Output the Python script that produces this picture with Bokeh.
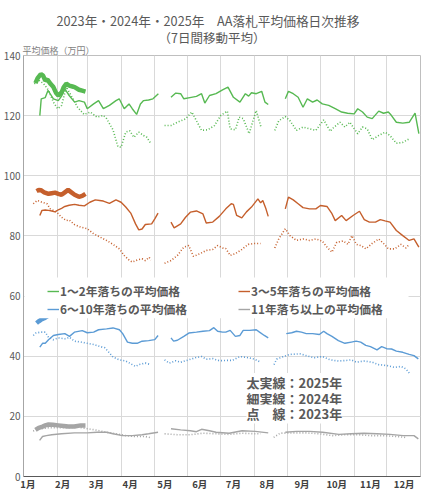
from bokeh.plotting import figure
from bokeh.models import (Range1d, FixedTicker, Legend, LegendItem, BoxAnnotation, Label, Title)
from bokeh.embed import file_html
from bokeh.resources import INLINE

NaN = float("nan")
FONT = "Noto Sans CJK JP"

title_main = "2023年・2024年・2025年　AA落札平均価格日次推移"
title_sub = "（7日間移動平均）"
y_title = "平均価格（万円）"
months = ["1月", "2月", "3月", "4月", "5月", "6月", "7月", "8月", "9月", "10月", "11月", "12月"]
month_start_days = [0, 31, 59, 90, 120, 151, 181, 212, 243, 273, 304, 334]
y_ticks = [0, 20, 40, 60, 80, 100, 120, 140]

# ---- 1~2年落ち (green) ----
g25_day = [11, 13, 15, 16, 18, 20, 22, 25, 27.5, 30, 32, 35, 37, 39.4, 42, 45, 47, 51, 54, 57]
g25_val = [130.8, 132.5, 133.4, 133.8, 133.3, 131.7, 132.0, 130.5, 129.5, 127.5, 126.7, 127.7, 129.5, 130.6, 130.0, 129.7, 129.5, 128.6, 128.3, 128.0]

g24_day = [15, 16.3, 20, 22.5, 25, 27.5, 32, 35, 38, 42, 47, 51, 56, 58.6, 64.5, 69, 73.4, 79, 85, 88, 92.6, 97, 100, 104, 107.5, 110.4, 115, 119, 124, 130,
           135.6, 140, 144.5, 147.4, 153, 159, 163.7, 166.7, 171, 177, 183, 188, 193, 199, 204, 207, 209.6, 214, 219, 222, 225, 232,
           240.7, 243.6, 248, 252.5, 257, 261, 265.8, 270, 274.7, 280.6, 286.6, 292.5, 298, 304, 307.3, 311.7, 316, 320.6, 326.6, 331, 335.4, 338, 342.8, 348.7, 354.6, 360, 363.5]
g24_val = [120.0, 125.6, 126.0, 128.4, 127.0, 125.6, 125.0, 126.5, 128.9, 126.7, 124.5, 125.0, 124.5, 122.3, 123.9, 125.0, 122.3, 123.4, 125.0, 125.6, 122.3, 123.9, 122.3, 120.4, 123.9, 125.0, 125.2, 125.6, 127.3, NaN,
           126.1, 127.5, 127.3, 125.6, 126.0, 126.4, 127.3, 124.2, 126.7, 127.3, 128.6, 129.5, 126.1, 124.5, 127.3, 126.5, 127.6, 127.3, 128.1, 124.5, 123.7, NaN,
           125.6, 128.1, 127.3, 126.1, 122.8, 125.6, 124.5, 125.2, 123.9, 123.4, 122.3, 121.2, 120.8, 120.6, 122.3, 121.2, 119.5, 119.0, 121.5, 120.8, 121.2, 120.2, 117.8, 117.5, 117.8, 120.8, 114.0]

g23_day = [10, 14, 18.6, 23, 27.5, 31.4, 35, 39.4, 43.8, 49.7, 55.7, 61.5, 67.5, 73.4, 76.4, 82.3, 86.8, 89.7, 94, 97.6, 101.5, 106, 110.4, 113.4, 117, 123,
           129.7, 135.6, 141.5, 148.9, 154.8, 159, 163.7, 169.5, 175.6, 181.4, 187.4, 190, 194.8, 198.3, 202, 207.5, 211, 214, 218.5, 225,
           231, 234.7, 240.7, 245, 251, 257, 263, 268.8, 276, 282, 285, 291, 295.5, 300, 303, 307.3, 311.7, 316, 320.6, 326.6, 332.4, 336.9, 342.8, 348.7, 354.6]
g23_val = [130.6, 131.8, 130.6, 128.4, 124.5, 122.3, 123.4, 129.5, 126.7, 122.8, 120.4, 121.2, 119.5, 120.1, 119.0, 115.3, 109.7, 109.5, 114.5, 115.0, 112.8, 114.5, 113.4, 112.8, 110.8, NaN,
           116.7, 116.7, 117.8, 118.9, 121.2, 118.3, 115.1, 115.3, 116.7, 120.1, 121.5, 115.6, 115.3, 119.5, 119.0, 114.0, 118.3, 121.7, 116.0, NaN,
           115.1, 118.3, 119.7, 118.3, 115.1, 116.2, 115.6, 115.1, 118.6, 114.8, 116.0, 117.8, 116.2, 117.8, 116.2, 114.0, 116.2, 115.6, 112.0, 113.4, 114.5, 113.4, 110.8, 111.1, 112.3]

# ---- 3~5年落ち (orange) ----
o25_day = [12, 14, 16, 19, 23, 26, 29, 32, 35, 38, 41, 44, 47, 51, 54, 57]
o25_val = [94.9, 95.3, 95.2, 94.5, 94.0, 94.2, 94.4, 94.0, 93.7, 94.5, 95.3, 94.5, 93.7, 93.0, 93.3, 94.0]

o24_day = [15, 17, 20, 23, 26, 29, 32, 35, 38, 42, 47, 51, 56, 61, 66, 70, 73.4, 79, 85, 89.7, 94, 98.6, 103, 106, 109, 112, 117.8, 120.7, 123.7, 130,
           135.6, 138.5, 144.5, 149, 153.4, 159, 165, 168, 174, 180, 186, 191, 193, 196, 200.7, 205, 209.6, 215.5, 218, 220, 222.9, 225, 232,
           240.7, 243.6, 248, 252.5, 257, 263, 268.8, 273, 279, 283.6, 286.6, 292.5, 296.6, 303, 308.9, 313.3, 318, 323.6, 328, 332.4, 337, 342.8, 348.7, 354.6, 359, 363.5]
o24_val = [86.8, 88.5, 88.6, 88.5, 88.3, 88.0, 88.7, 89.2, 89.8, 90.2, 90.5, 90.2, 90.0, 91.2, 92.0, 91.8, 91.6, 90.8, 92.0, 91.2, 89.6, 87.6, 84.0, 82.0, 82.3, 83.8, 84.0, 85.7, 87.6, NaN,
           84.6, 82.7, 84.0, 86.2, 87.9, 88.3, 87.3, 84.3, 84.6, 86.5, 89.0, 90.7, 90.5, 86.8, 86.0, 88.0, 89.6, 92.3, 91.0, 91.8, 89.0, 86.5, NaN,
           89.0, 92.9, 92.0, 90.7, 89.4, 89.0, 89.0, 90.1, 89.8, 87.4, 85.1, 86.8, 85.1, 86.8, 88.2, 85.4, 84.6, 84.6, 85.4, 85.0, 84.6, 81.8, 80.1, 78.5, 79.0, 76.3]

o23_day = [9, 12.7, 17, 21.6, 24.6, 30.5, 35, 39.4, 42, 46.8, 52.7, 58.6, 64.5, 70.4, 76.4, 82.3, 88.2, 92.6, 97, 100, 104.5, 109, 112, 115.5, 117.2, 123,
           129.7, 135.6, 141.5, 147.4, 151.9, 156.3, 162.3, 168, 174, 178.5, 183, 186, 190, 194.8, 200.7, 206.6, 212.5, 218, 225,
           231, 234.7, 240.7, 245, 251, 257, 263, 268.8, 274.7, 279, 283.6, 288, 294, 298.3, 302, 306, 310.4, 314.7, 320.6, 326.6, 331, 335.4, 341.3, 347, 351.6, 354.6]
o23_val = [90.7, 91.8, 91.2, 90.7, 89.0, 87.9, 86.2, 85.1, 85.3, 83.8, 82.9, 82.4, 80.7, 79.6, 78.5, 77.2, 75.7, 73.5, 72.0, 71.3, 72.0, 72.4, 71.8, 72.9, 72.0, NaN,
           70.9, 71.8, 73.5, 76.3, 76.8, 73.2, 74.1, 75.2, 75.5, 76.8, 76.0, 75.8, 73.5, 74.1, 75.5, 77.2, 77.5, 77.5, NaN,
           76.0, 79.0, 82.4, 80.1, 78.5, 79.0, 78.5, 79.0, 78.3, 76.3, 74.6, 77.9, 78.3, 77.2, 80.1, 77.2, 76.8, 75.7, 77.5, 79.0, 77.5, 75.7, 75.7, 77.2, 76.0, 77.2]

# ---- 6~10年落ち (blue) ----
b25_day = [12, 14, 16, 19, 23, 28, 35, 42, 50, 57]
b25_val = [51.0, 51.6, 52.1, 52.6, 53.5, 54.5, 55.0, 55.5, 55.0, 55.3]

b24_day = [15, 17.5, 20, 23, 27.5, 32, 38, 42.3, 46.8, 54, 58.6, 64.5, 69, 76.4, 82.3, 88.2, 91.2, 95.6, 100, 104.5, 109, 115, 120.7, 123.7, 130,
           135.6, 138, 141.5, 147.4, 152, 159, 165, 171, 175, 178.5, 183, 186, 190, 194.8, 199, 202, 208, 214, 217, 221.4, 225, 232,
           241.6, 246.6, 251, 255.5, 260, 265.8, 272, 276, 279, 283.6, 289.5, 295.5, 301.4, 305.8, 310, 314.7, 319, 325, 329.3, 333.9, 338.4, 342.8, 348.7, 354.6, 359, 363]
b24_val = [43.0, 44.3, 44.3, 45.5, 46.9, 47.2, 47.5, 46.6, 48.0, 48.5, 47.8, 48.0, 48.8, 49.1, 49.4, 48.8, 47.5, 44.7, 44.3, 44.3, 45.0, 45.2, 45.5, 46.9, NaN,
           46.1, 45.0, 45.3, 46.6, 47.7, 48.0, 48.3, 48.5, 49.5, 48.3, 48.0, 48.0, 48.6, 46.6, 46.9, 48.6, 48.6, 48.8, 48.0, 46.9, 46.1, NaN,
           47.5, 47.8, 48.3, 48.0, 47.5, 47.5, 47.2, 48.3, 47.5, 46.6, 45.2, 44.3, 44.7, 45.0, 44.7, 43.6, 43.2, 42.1, 43.2, 42.5, 42.4, 41.7, 41.3, 40.6, 40.2, 39.1]

b23_day = [9, 11.3, 15.7, 20, 23, 27.5, 32, 38, 42.3, 46.8, 52.7, 58.6, 64.5, 70.4, 74.8, 79.3, 82.3, 88.2, 94, 98.6, 103, 106, 112, 117.2, 123,
           129.7, 134, 140, 144.5, 152, 158, 163.7, 168, 174, 180, 186, 192, 199, 206.6, 212.5, 218, 225,
           230.3, 232.7, 239, 245, 254, 260, 267.3, 274.7, 282, 289.5, 297, 301.4, 306, 313.3, 320.6, 326.6, 334, 341.3, 347, 351.6, 354.6]
b23_val = [46.9, 47.7, 48.0, 48.0, 46.3, 45.5, 46.1, 45.8, 46.3, 45.0, 44.7, 44.3, 43.9, 43.2, 42.8, 41.0, 39.7, 38.8, 38.4, 37.5, 36.6, 37.2, 37.7, 37.2, NaN,
           38.8, 37.7, 38.5, 38.0, 38.8, 39.5, 39.9, 39.0, 39.2, 38.5, 38.6, 38.6, 39.9, 39.5, 39.0, 38.0, NaN,
           37.2, 39.0, 39.9, 40.6, 40.8, 40.2, 39.5, 39.9, 38.8, 38.4, 38.6, 38.8, 38.0, 38.4, 38.0, 37.2, 36.9, 36.3, 36.6, 35.8, 34.4]

# ---- 11年落ち以上 (gray) ----
k25_day = [11, 14, 17.5, 20, 23, 27, 32, 37, 41, 46.8, 52.7, 57]
k25_val = [15.5, 16.2, 16.6, 17.0, 17.3, 17.2, 17.0, 16.8, 16.6, 16.6, 17.0, 17.0]

k24_day = [14.8, 17.5, 21, 26, 35, 46.8, 58.6, 67.5, 76.4, 82.3, 91, 100, 109, 115, 123.7, 130,
           135.6, 144.5, 153.4, 159, 163.7, 171, 177, 189, 201, 213, 225, 232,
           240.7, 251, 263, 275, 290, 301, 313, 325, 337, 349, 359, 363]
k24_val = [12.0, 13.3, 13.6, 13.9, 14.2, 14.5, 14.5, 14.7, 14.7, 14.2, 13.6, 13.6, 13.9, 14.2, 14.7, NaN,
           15.9, 15.5, 15.2, 14.9, 15.7, 15.2, 14.7, 14.4, 15.2, 15.0, 14.5, NaN,
           14.7, 15.0, 15.0, 14.7, 14.0, 14.2, 14.4, 14.2, 14.0, 13.6, 13.6, 12.5]

k23_day = [8.9, 14.2, 23, 32, 41, 50, 58.6, 67.5, 76.4, 85.3, 94, 103, 112, 117, 123,
           129.7, 141.5, 153.4, 165, 177, 189, 201, 213, 218, 225,
           230, 236, 248, 260, 272, 284, 295.5, 307, 319, 331, 343, 351.6]
k23_val = [15.1, 15.8, 16.2, 16.2, 16.2, 16.4, 15.9, 15.4, 14.7, 14.2, 13.6, 13.3, 13.3, 12.9, NaN,
           14.2, 13.9, 13.9, 14.4, 14.2, 14.0, 14.4, 14.2, 14.2, NaN,
           13.0, 14.4, 14.5, 14.5, 14.2, 13.6, 13.9, 13.9, 13.6, 13.6, 13.3, 13.0]

series = [
    ("1～2年落ちの平均価格", "#57B952", (g23_day, g23_val), (g24_day, g24_val), (g25_day, g25_val)),
    ("3～5年落ちの平均価格", "#C55F2C", (o23_day, o23_val), (o24_day, o24_val), (o25_day, o25_val)),
    ("6～10年落ちの平均価格", "#5B9BD5", (b23_day, b23_val), (b24_day, b24_val), (b25_day, b25_val)),
    ("11年落ち以上の平均価格", "#A5A5A5", (k23_day, k23_val), (k24_day, k24_val), (k25_day, k25_val)),
]

FW, FH = 397, 421
p = figure(frame_width=FW, frame_height=FH, x_range=Range1d(0, 365), y_range=Range1d(0, 140),
           output_backend="svg", toolbar_location=None, title=None,
           min_border_left=20, min_border_right=4, min_border_top=0, min_border_bottom=0)
p.background_fill_color = "white"
p.border_fill_color = "white"
p.outline_line_color = "#bfbfbf"

# titles (first added sits nearest the plot)
p.add_layout(Title(text=y_title, align="left", text_font=FONT, text_font_size="9px",
                   text_color="#7f7f7f", text_font_style="normal", standoff=-3, offset=-1), "above")
p.add_layout(Title(text=title_sub, align="left", text_font=FONT, text_font_size="12.5px",
                   text_color="#595959", text_font_style="normal", standoff=-7, offset=135), "above")
p.add_layout(Title(text=title_main, align="left", text_font=FONT, text_font_size="12.7px",
                   text_color="#595959", text_font_style="normal", standoff=0, offset=33), "above")
p.add_layout(Title(text=" ", align="left", text_font=FONT, text_font_size="1px",
                   standoff=5), "above")

# axes
label_pos = [round(4 + 31.5 * i) for i in range(12)]
p.xaxis.ticker = FixedTicker(ticks=label_pos)
p.xaxis.major_label_overrides = {pos: m for pos, m in zip(label_pos, months)}
p.xaxis.major_tick_line_color = None
p.xaxis.minor_tick_line_color = None
p.xaxis.major_tick_out = 0
p.xaxis.major_tick_in = 0
p.xaxis.minor_tick_out = 0
p.xaxis.axis_line_color = "#595959"
p.xaxis.major_label_text_font = FONT
p.xaxis.major_label_text_font_size = "9.5px"
p.xaxis.major_label_text_font_style = "bold"
p.xaxis.major_label_text_color = "#404040"
p.xaxis.major_label_standoff = 0

p.yaxis.ticker = FixedTicker(ticks=y_ticks)
p.yaxis.major_tick_line_color = None
p.yaxis.minor_tick_line_color = None
p.yaxis.major_tick_out = 0
p.yaxis.major_tick_in = 0
p.yaxis.minor_tick_out = 0
p.yaxis.axis_line_color = "#a6a6a6"
p.yaxis.major_label_text_font = FONT
p.yaxis.major_label_text_font_size = "10px"
p.yaxis.major_label_text_color = "#595959"
p.yaxis.major_label_standoff = 3

p.xgrid.ticker = FixedTicker(ticks=month_start_days)
p.ygrid.ticker = FixedTicker(ticks=y_ticks)
p.xgrid.grid_line_color = "#d9d9d9"
p.ygrid.grid_line_color = "#d9d9d9"

legend_items = {}
for name, color, s23, s24, s25 in series:
    p.line(s23[0], s23[1], line_color=color, line_width=1.6, line_dash="1 2")
    r24 = p.line(s24[0], s24[1], line_color=color, line_width=1.4)
    p.line(s25[0], s25[1], line_color=color, line_width=4.5)
    legend_items[name] = r24

# white box behind legend
p.add_layout(BoxAnnotation(left=1, right=354, bottom=52.6, top=66.2,
                           fill_color="white", fill_alpha=1, line_color=None))

names = [s[0] for s in series]
for cols, loc in (((names[0], names[2]), (24, 159)), ((names[1], names[3]), (215, 159))):
    lg = Legend(items=[LegendItem(label=n, renderers=[legend_items[n]]) for n in cols],
                location=loc, orientation="vertical",
                label_text_font=FONT, label_text_font_size="11.8px", label_text_font_style="bold",
                label_text_color="#595959", label_height=12, glyph_height=12, glyph_width=12,
                label_standoff=1, spacing=1, padding=0, margin=0,
                border_line_color=None, background_fill_alpha=0)
    p.add_layout(lg, "center")

notes = ["太実線：2025年", "細実線：2024年", "点　線：2023年"]
note_y = [31.3, 25.8, 20.8]
for t, yv in zip(notes, note_y):
    p.add_layout(Label(x=205, y=yv, text=t, text_font=FONT, text_font_size="13px",
                       text_font_style="bold", text_color="#595959", text_baseline="middle",
                       background_fill_color="white", background_fill_alpha=1))

open("out.html", "w").write(file_html(p, INLINE))
